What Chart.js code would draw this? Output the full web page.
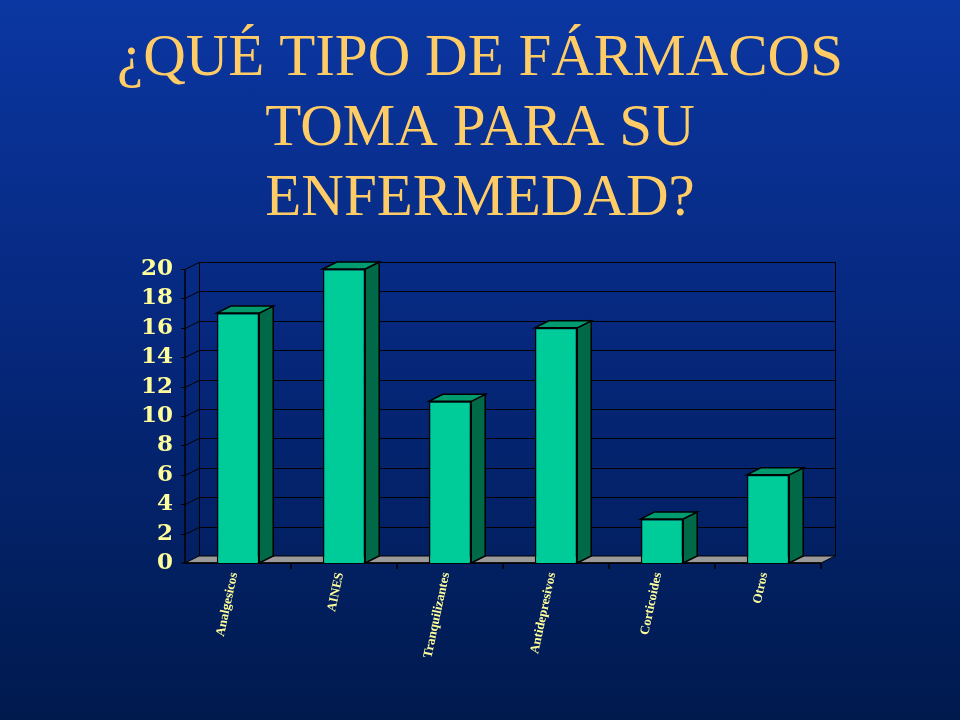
<!DOCTYPE html>
<html>
<head>
<meta charset="utf-8">
<script src="https://cdn.jsdelivr.net/npm/chart.js@4/dist/chart.umd.min.js"></script>
<style>
  html, body { margin: 0; padding: 0; }
  body { width: 960px; height: 720px; background: linear-gradient(to bottom, #0b37a2 0%, #06287e 45%, #001a4e 100%); }
  #wrap { width: 960px; height: 720px; }
</style>
</head>
<body>
<div id="wrap"><canvas id="bar-chart"></canvas></div>
<script>
//********************
// DATA
//********************
const categories = ["Analgesicos", "AINES", "Tranquilizantes", "Antidepresivos", "Corticoides", "Otros"];
const values = [17, 20, 11, 16, 3, 6];
const yTicks = [0, 2, 4, 6, 8, 10, 12, 14, 16, 18, 20];
const titleLines = ["¿QUÉ TIPO DE FÁRMACOS", "TOMA PARA SU", "ENFERMEDAD?"];

// depth of the fake 3d
const DX = 14, DY = -7;

//********************
// 3D WALLS + BAR SIDES
//********************
const fake3d = {
  id: 'fake3d',
  beforeDatasetsDraw(chart) {
    const ctx = chart.ctx;
    const { left, right, top, bottom } = chart.chartArea;
    const y = chart.scales.y;
    ctx.save();
    ctx.lineWidth = 1;
    ctx.strokeStyle = '#000';

    // floor
    ctx.beginPath();
    ctx.moveTo(left, bottom);
    ctx.lineTo(right, bottom);
    ctx.lineTo(right + DX, bottom + DY);
    ctx.lineTo(left + DX, bottom + DY);
    ctx.closePath();
    ctx.fillStyle = '#9a9a9a';
    ctx.fill();
    ctx.stroke();

    // grid lines on side + back wall
    yTicks.forEach(v => {
      if (v === 0) return;
      const yy = Math.round(y.getPixelForValue(v)) + 0.5;
      ctx.beginPath();
      ctx.moveTo(left, yy);
      ctx.lineTo(left + DX, yy + DY);
      ctx.lineTo(right + DX, yy + DY);
      ctx.stroke();
      // tick mark
      ctx.beginPath();
      ctx.moveTo(left - 4, yy);
      ctx.lineTo(left, yy);
      ctx.stroke();
    });
    ctx.beginPath();
    ctx.moveTo(left - 4, bottom);
    ctx.lineTo(left, bottom);
    ctx.stroke();

    // back wall edges
    ctx.beginPath();
    ctx.moveTo(left + DX + 0.5, top + DY);
    ctx.lineTo(left + DX + 0.5, bottom + DY);
    ctx.moveTo(right + DX + 0.5, top + DY);
    ctx.lineTo(right + DX + 0.5, bottom + DY);
    ctx.stroke();

    // front y axis
    ctx.lineWidth = 1.5;
    ctx.beginPath();
    ctx.moveTo(left, top);
    ctx.lineTo(left, bottom);
    ctx.lineTo(right, bottom);
    ctx.stroke();

    // x ticks at category boundaries
    const step = (right - left) / categories.length;
    for (let i = 1; i <= categories.length; i++) {
      const xx = left + i * step;
      ctx.beginPath();
      ctx.moveTo(xx, bottom);
      ctx.lineTo(xx, bottom + 6);
      ctx.stroke();
    }
    ctx.restore();
  },
  afterDatasetsDraw(chart) {
    const ctx = chart.ctx;
    const meta = chart.getDatasetMeta(0);
    ctx.save();
    ctx.lineWidth = 1.5;
    ctx.strokeStyle = '#000';
    meta.data.forEach(bar => {
      const p = bar.getProps(['x', 'y', 'base', 'width'], true);
      const l = p.x - p.width / 2, r = p.x + p.width / 2;
      // side
      ctx.beginPath();
      ctx.moveTo(r, p.y);
      ctx.lineTo(r + DX, p.y + DY);
      ctx.lineTo(r + DX, p.base + DY);
      ctx.lineTo(r, p.base);
      ctx.closePath();
      ctx.fillStyle = '#006a48';
      ctx.fill();
      ctx.stroke();
      // top
      ctx.beginPath();
      ctx.moveTo(l, p.y);
      ctx.lineTo(l + DX, p.y + DY);
      ctx.lineTo(r + DX, p.y + DY);
      ctx.lineTo(r, p.y);
      ctx.closePath();
      ctx.fillStyle = '#009c70';
      ctx.fill();
      ctx.stroke();
    });
    ctx.restore();
  }
};

//********************
// CHART
//********************
const ctx = document.getElementById("bar-chart");
const barChart = new Chart(ctx, {
  type: 'bar',
  data: {
    labels: categories,
    datasets: [{
      data: values,
      backgroundColor: '#00cc99',
      borderColor: '#000',
      borderWidth: 1.5,
      barPercentage: 0.4,
      categoryPercentage: 1
    }]
  },
  options: {
    responsive: true,
    maintainAspectRatio: false,
    animation: false,
    layout: {
      padding: 0
    },
    plugins: {
      legend: { display: false },
      tooltip: { enabled: false },
      title: {
        display: true,
        text: titleLines,
        color: '#ffcc66',
        font: { family: '"Liberation Serif", "Times New Roman", serif', size: 59, weight: 'normal', lineHeight: '70px' },
        padding: { top: 24, bottom: 35 }
      }
    },
    scales: {
      x: {
        grid: { display: false, drawTicks: false },
        border: { display: false },
        ticks: {
          color: '#ffff99',
          font: { family: '"Liberation Serif", serif', size: 13, weight: 'bold' },
          maxRotation: 78,
          minRotation: 78,
          padding: 8,
          labelOffset: -4,
          autoSkip: false
        },
        afterFit(s) { s.height = 157; }
      },
      y: {
        min: 0,
        max: 20,
        grid: { display: false, drawTicks: false },
        border: { display: false },
        ticks: {
          stepSize: 2,
          autoSkip: false,
          color: '#ffff99',
          font: { family: '"DejaVu Serif", serif', size: 23, weight: 'bold' },
          padding: 12
        },
        afterFit(s) { s.width = 185; }
      },
      // empty right axis, only reserves the space right of the plot
      yRight: {
        position: 'right',
        min: 0,
        max: 20,
        grid: { display: false, drawTicks: false },
        border: { display: false },
        ticks: { display: false },
        afterFit(s) { s.width = 139; }
      }
    }
  },
  plugins: [fake3d]
});
</script>
</body>
</html>
